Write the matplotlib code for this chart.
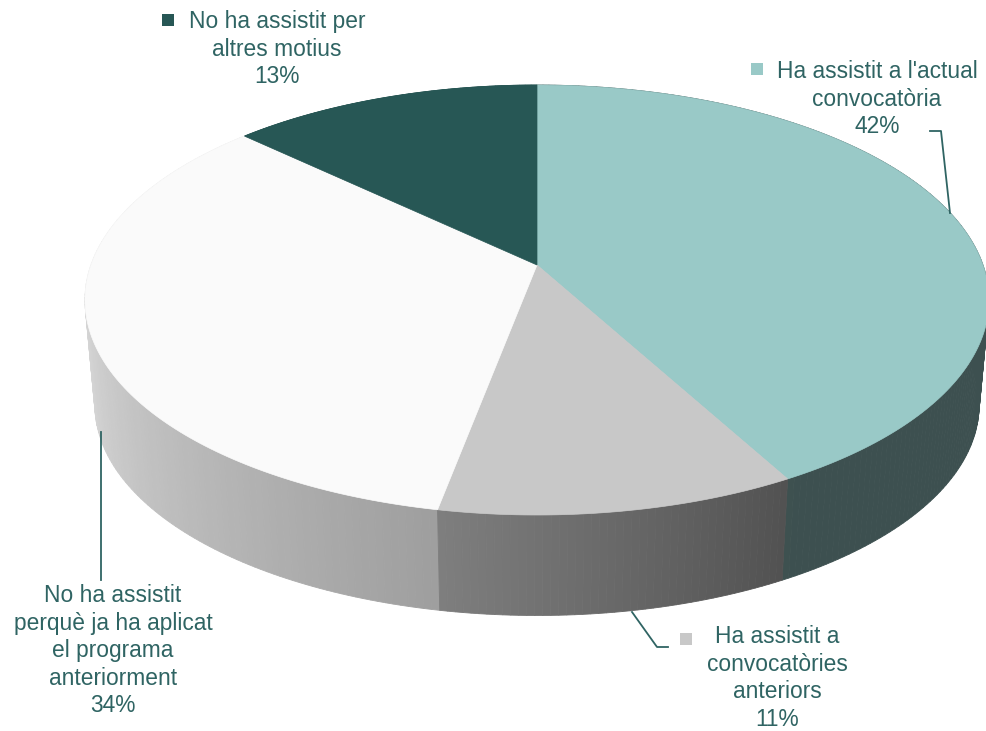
import numpy as np
import matplotlib.pyplot as plt
from matplotlib.patches import Polygon

plt.rcParams['font.family'] = ['Liberation Sans', 'DejaVu Sans']

# data, clockwise from 12 o'clock
labels = ["Ha assistit a l'actual\nconvocatòria",
          "Ha assistit a\nconvocatòries\nanteriors",
          "No ha assistit\nperquè ja ha aplicat\nel programa\nanteriorment",
          "No ha assistit per\naltres motius"]
values = [42, 11, 34, 13]
colors = ["#99C9C7", "#C8C8C8", "#FAFAFA", "#275755"]

TXT = "#2F6463"
W, H = 987, 731

# tilted disk seen in perspective (pixel space)
X0, Y0 = 537, 265
A, B, K = 446, 209.3, 0.1628
DEPTH, SHRINK = 106, 0.978


def proj(theta, bottom=False):
    u, v = np.cos(theta), np.sin(theta)
    d = 1 + K * v
    dx, dy = A * u / d, -B * v / d
    if bottom:
        return X0 + SHRINK * dx, Y0 + DEPTH + SHRINK * dy
    return X0 + dx, Y0 + dy


def side_shade(theta):
    # brightness of the outer wall depending on where it faces
    t = np.degrees(theta)
    t = (t + 270) % 360 - 270  # -> (-270, 90]
    return np.interp(t, [-270, -190, -180, -100, -60, 90],
                     [0.92, 0.92, 0.90, 0.63, 0.40, 0.40])


def hex2rgb(h):
    h = h.lstrip('#')
    return np.array([int(h[i:i + 2], 16) for i in (0, 2, 4)]) / 255.0


fig = plt.figure(figsize=(W / 100, H / 100), dpi=100)
ax = fig.add_axes([0, 0, 1, 1])
ax.set_xlim(0, W)
ax.set_ylim(H, 0)
ax.axis('off')

fracs = np.array(values, dtype=float) / sum(values)
bounds = np.pi / 2 - 2 * np.pi * np.concatenate([[0], np.cumsum(fracs)])

# outer wall, far segments first
segs = []
for i in range(len(values)):
    th = np.linspace(bounds[i], bounds[i + 1], int(400 * fracs[i]) + 2)
    for a0, a1 in zip(th[:-1], th[1:]):
        segs.append((np.sin((a0 + a1) / 2), a0, a1, i))
segs.sort(key=lambda s: -s[0])
for _, a0, a1, i in segs:
    p0, p1 = proj(a0), proj(a1)
    q0, q1 = proj(a0, True), proj(a1, True)
    c = np.clip(hex2rgb(colors[i]) * side_shade((a0 + a1) / 2), 0, 1)
    ax.add_patch(Polygon([p0, p1, q1, q0], closed=True, facecolor=c,
                         edgecolor=c, linewidth=0.6))

# top faces
for i in range(len(values)):
    th = np.linspace(bounds[i], bounds[i + 1], 200)
    pts = [(X0, Y0)] + [proj(t) for t in th]
    ax.add_patch(Polygon(pts, closed=True, facecolor=colors[i],
                         edgecolor=colors[i], linewidth=0.5))

# data labels
label_pos = [(877, 99), (777, 678), (113, 651), (277, 49)]
key_pos = [(757, 69), (686, 639), None, (168, 20)]
for i in range(len(values)):
    x, y = label_pos[i]
    ax.text(x, y, f"{labels[i]}\n{values[i]}%", ha='center', va='center',
            fontsize=16.4, color=TXT, linespacing=1.25)
    if key_pos[i] is not None:
        ax.plot(*key_pos[i], marker='s', markersize=8, color=colors[i],
                markeredgewidth=0)

# leader lines
ax.plot([930, 941, 950], [131, 131, 213], color=TXT, lw=1.3)
ax.plot([632, 657, 668], [612, 647, 647], color=TXT, lw=1.3)
ax.plot([101, 101], [432, 580], color=TXT, lw=1.3)

fig.savefig("out.png", dpi=100, facecolor='white')
